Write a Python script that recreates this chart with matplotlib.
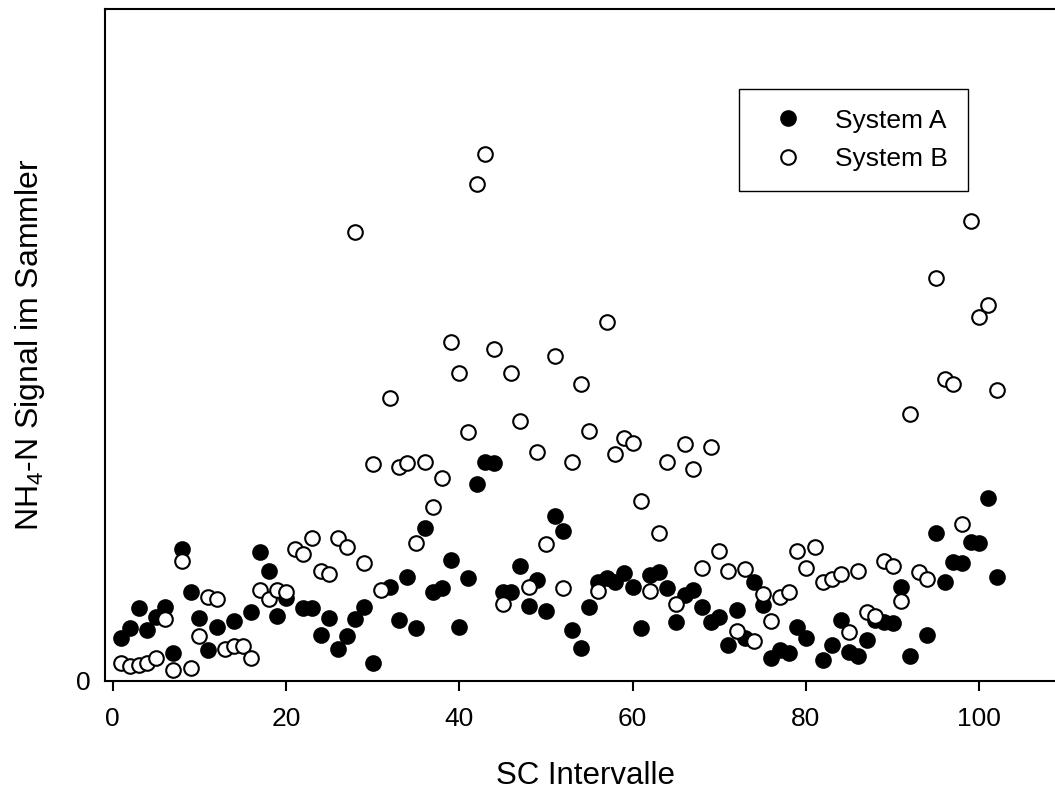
import numpy as np
import matplotlib
matplotlib.use("Agg")
import matplotlib.pyplot as plt

plt.rcParams['font.family'] = ['Liberation Sans', 'DejaVu Sans']
plt.rcParams['mathtext.default'] = 'regular'

# SC intervals 1..102, NaN where no value for System A
intervalle = np.arange(1, 103)

system_a = [6.4, 7.9, 10.9, 7.6, 9.5, 11.0, 4.2, 19.6, 13.2, 9.4,
            4.6, 8.0, np.nan, 8.9, np.nan, 10.3, 19.2, 16.4, 9.7, 12.4,
            np.nan, 10.9, 10.9, 6.8, 9.4, 4.8, 6.7, 9.2, 11.0, 2.7,
            np.nan, 14.0, 9.1, 15.5, 7.9, 22.8, 13.2, 13.8, 18.0, 8.0,
            15.3, 29.3, 32.6, 32.4, 13.2, 13.2, 17.1, 11.2, 15.0, 10.4,
            24.6, 22.3, 7.6, 4.9, 11.0, 14.7, 15.3, 14.7, 16.1, 14.0,
            7.9, 15.8, 16.2, 13.8, 8.8, 12.8, 13.5, 11.0, 8.8, 9.5,
            5.4, 10.6, 6.4, 14.7, 11.3, 3.4, 4.6, 4.2, 8.0, 6.4,
            np.nan, 3.1, 5.4, 9.1, 4.3, 3.7, 6.1, 9.1, 8.8, 8.6,
            14.0, 3.7, np.nan, 6.8, 22.0, 14.7, 17.7, 17.6, 20.7, 20.5,
            27.2, 15.5]

system_b = [2.7, 2.2, 2.4, 2.7, 3.4, 9.2, 1.6, 17.9, 1.9, 6.7,
            12.5, 12.2, 4.8, 5.2, 5.2, 3.4, 13.5, 12.2, 13.5, 13.2,
            19.6, 18.9, 21.3, 16.4, 15.9, 21.3, 19.9, 66.8, 17.6, 32.3,
            13.5, 42.1, 31.8, 32.4, 20.5, 32.6, 25.9, 30.2, 50.4, 45.8,
            37.1, 74.0, 78.4, 49.4, 11.5, 45.8, 38.7, 14.0, 34.1, 20.4,
            48.4, 13.8, 32.6, 44.2, 37.2, 13.4, 53.4, 33.8, 36.2, 35.4,
            26.8, 13.4, 22.0, 32.6, 11.5, 35.3, 31.5, 16.8, 34.8, 19.3,
            16.4, 7.4, 16.7, 6.0, 12.9, 8.9, 12.5, 13.2, 19.3, 16.8,
            19.9, 14.7, 15.2, 15.9, 7.3, 16.4, 10.3, 9.7, 17.9, 17.1,
            11.9, 39.7, 16.2, 15.2, 60.0, 44.9, 44.2, 23.4, 68.5, 54.2,
            56.0, 43.3]

x_ticks = [0, 20, 40, 60, 80, 100]

fig = plt.figure(figsize=(10.55, 7.91), dpi=100)
ax = fig.add_axes([0.0992, 0.1391, 0.9112, 0.8496])

ax.plot(intervalle, system_a, linestyle='none', marker='o', markersize=10.5,
        markerfacecolor='black', markeredgecolor='black', markeredgewidth=1.5,
        label='System A')
ax.plot(intervalle, system_b, linestyle='none', marker='o', markersize=10.5,
        markerfacecolor='white', markeredgecolor='black', markeredgewidth=1.5,
        label='System B')

ax.set_xlim(-0.92, 110)
ax.set_ylim(0, 100)
ax.set_xticks(x_ticks)
ax.set_yticks([0])
ax.tick_params(axis='x', direction='out', length=7.5, width=1.5, pad=11, labelsize=19)
ax.tick_params(axis='y', length=0, pad=10, labelsize=19)
for s in ax.spines.values():
    s.set_linewidth(1.5)

ax.set_xlabel('SC Intervalle', fontsize=22.5, va='center')
ax.xaxis.set_label_coords(0.5, -0.141)
ax.set_ylabel('NH$_4$-N Signal im Sammler', fontsize=23, va='center')
ax.yaxis.set_label_coords(-0.0777, 0.5)

leg = ax.legend(loc='upper left', bbox_to_anchor=(739 / 1055, 1 - 89 / 791),
                bbox_transform=fig.transFigure, borderaxespad=0, fontsize=19,
                numpoints=1, handlelength=2.27, handletextpad=0.64,
                borderpad=0.74, labelspacing=0.55, fancybox=False,
                edgecolor='black', framealpha=1)
leg.get_frame().set_linewidth(1.0)

fig.savefig('out.png', dpi=100)
